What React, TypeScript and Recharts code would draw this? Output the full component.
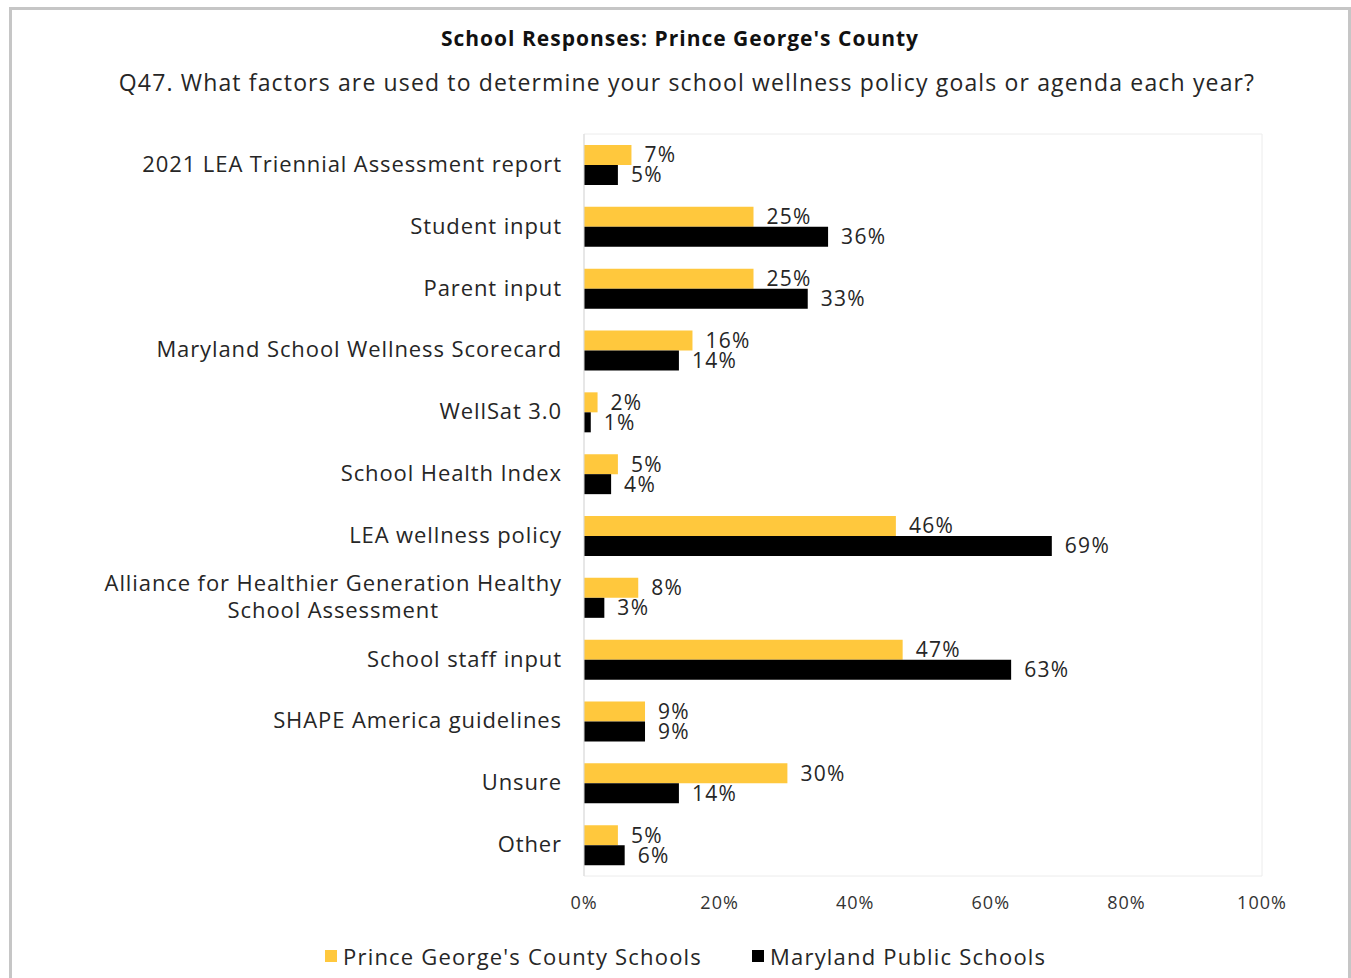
import React from "react";
import {
  BarChart,
  Bar,
  XAxis,
  YAxis,
  LabelList,
  ReferenceArea,
} from "recharts";

const categories = [
  "2021 LEA Triennial Assessment report",
  "Student input",
  "Parent input",
  "Maryland School Wellness Scorecard",
  "WellSat 3.0",
  "School Health Index",
  "LEA wellness policy",
  "Alliance for Healthier Generation Healthy School Assessment",
  "School staff input",
  "SHAPE America guidelines",
  "Unsure",
  "Other",
];
const pgcs = [7, 25, 25, 16, 2, 5, 46, 8, 47, 9, 30, 5];
const mps = [5, 36, 33, 14, 1, 4, 69, 3, 63, 9, 14, 6];
const xTicks = [0, 20, 40, 60, 80, 100];

const FONT = "'Open Sans', sans-serif";
const YELLOW = "#FFC83D";
const TEXT = "#262626";
const LS = 0.9;

const data = categories.map((name, i) => ({ name, pgcs: pgcs[i], mps: mps[i] }));

let ctx: CanvasRenderingContext2D | null = null;
function measure(s: string, size: number) {
  if (!ctx) ctx = document.createElement("canvas").getContext("2d");
  if (!ctx) return s.length * (size * 0.55 + LS);
  ctx.font = `${size}px 'Open Sans'`;
  return ctx.measureText(s).width + s.length * LS;
}

function wrap(s: string, size: number, maxW: number) {
  const words = s.split(" ");
  const lines: string[] = [];
  let cur = "";
  for (const w of words) {
    const next = cur ? cur + " " + w : w;
    if (cur && measure(next, size) > maxW) {
      lines.push(cur);
      cur = w;
    } else cur = next;
  }
  if (cur) lines.push(cur);
  return lines;
}

const YTick = (props: any) => {
  const { x, y, payload } = props;
  const size = 22;
  const lines = wrap(payload.value, size, 480);
  if (lines.length === 1) {
    return (
      <text x={x} y={y} dy={7} textAnchor="end" fontSize={size} fill={TEXT} fontFamily={FONT} letterSpacing={LS}>
        {payload.value}
      </text>
    );
  }
  const maxW = Math.max(...lines.map((l) => measure(l, size)));
  const cx = x - maxW / 2;
  const lh = 27;
  return (
    <text x={cx} y={y} textAnchor="middle" fontSize={size} fill={TEXT} fontFamily={FONT} letterSpacing={LS}>
      {lines.map((l, i) => (
        <tspan key={i} x={cx} dy={i === 0 ? 7 - ((lines.length - 1) * lh) / 2 : lh}>
          {l}
        </tspan>
      ))}
    </text>
  );
};

const pct = (v: any) => `${v}%`;

export default function App() {
  return (
    <div style={{ position: "relative", width: 1351, height: 978, background: "#fff", fontFamily: FONT, overflow: "hidden" }}>
      <style>{`body{margin:0}`}</style>
      <div
        style={{
          position: "absolute",
          left: 9,
          top: 7,
          width: 1336,
          height: 990,
          border: "3px solid #c6c6c6",
        }}
      />
      <div style={{ position: "absolute", left: 0, width: 1360, top: 24, textAlign: "center", fontSize: 21, fontWeight: 700, color: "#111", letterSpacing: 1 }}>
        School Responses: Prince George's County
      </div>
      <div style={{ position: "absolute", left: 0, width: 1374, top: 66, textAlign: "center", fontSize: 23, color: TEXT, letterSpacing: 1.15 }}>
        Q47. What factors are used to determine your school wellness policy goals or agenda each year?
      </div>
      <div style={{ position: "absolute", left: 0, top: 0 }}>
        <BarChart
          width={1351}
          height={978}
          data={data}
          layout="vertical"
          margin={{ top: 134, right: 89, bottom: 72, left: 10 }}
          barSize={20}
          barGap={0}
        >
          <ReferenceArea x1={0} x2={100} stroke="#ececec" fill="none" fillOpacity={0} ifOverflow="extendDomain" />
          <XAxis
            type="number"
            domain={[0, 100]}
            ticks={xTicks}
            tickFormatter={pct}
            axisLine={false}
            tickLine={false}
            height={30}
            tick={{ fontSize: 18, fill: "#333", fontFamily: FONT, letterSpacing: 1 }}
            tickMargin={14}
          />
          <YAxis
            type="category"
            dataKey="name"
            width={574}
            axisLine={{ stroke: "#d9d9d9" }}
            tickLine={false}
            tickSize={0}
            tickMargin={22}
            tick={<YTick />}
            interval={0}
          />
          <Bar dataKey="pgcs" fill={YELLOW} isAnimationActive={false}>
            <LabelList dataKey="pgcs" position="right" offset={13} formatter={pct} fill={TEXT} fontSize={21} fontFamily={FONT} letterSpacing={1.3} />
          </Bar>
          <Bar dataKey="mps" fill="#000" isAnimationActive={false}>
            <LabelList dataKey="mps" position="right" offset={13} formatter={pct} fill={TEXT} fontSize={21} fontFamily={FONT} letterSpacing={1.3} />
          </Bar>
        </BarChart>
      </div>
      <div style={{ position: "absolute", top: 941, left: 325, display: "flex", alignItems: "center", fontSize: 22, color: TEXT, letterSpacing: 1.2 }}>
        <span style={{ width: 12, height: 12, background: YELLOW, display: "inline-block", marginRight: 6 }} />
        <span>Prince George's County Schools</span>
        <span style={{ width: 12, height: 12, background: "#000", display: "inline-block", marginLeft: 50, marginRight: 6 }} />
        <span>Maryland Public Schools</span>
      </div>
    </div>
  );
}
